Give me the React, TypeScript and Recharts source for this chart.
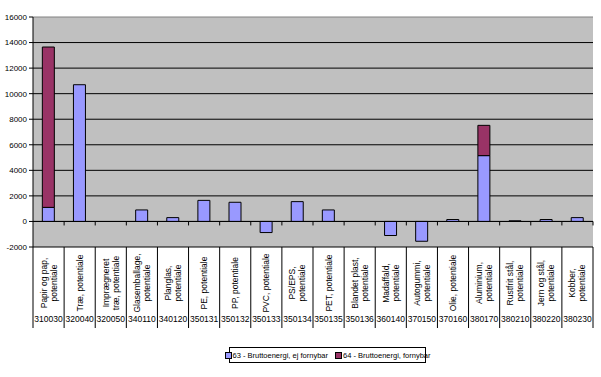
import React from "react";
import {
  Bar,
  BarChart,
  CartesianGrid,
  Legend,
  ReferenceLine,
  XAxis,
  YAxis,
} from "recharts";

const codes = [
  "310030", "320040", "320050", "340110", "340120", "350131", "350132", "350133", "350134",
  "350135", "350136", "360140", "370150", "370160", "380170", "380210", "380220", "380230",
];

const names = [
  "Papir og pap,\npotentiale",
  "Træ, potentiale",
  "Imprægneret\ntræ, potentiale",
  "Glasemballage,\npotentiale",
  "Planglas,\npotentiale",
  "PE, potentiale",
  "PP, potentiale",
  "PVC, potentiale",
  "PS/EPS,\npotentiale",
  "PET, potentiale",
  "Blandet plast,\npotentiale",
  "Madaffald,\npotentiale",
  "Autogummi,\npotentiale",
  "Olie, potentiale",
  "Aluminium,\npotentiale",
  "Rustfrit stål,\npotentiale",
  "Jern og stål,\npotentiale",
  "Kobber,\npotentiale",
];

// 63 - Bruttoenergi, ej fornybar
const nonRenewable = [1100, 10700, 0, 900, 300, 1650, 1500, -870, 1550, 900, 0, -1100, -1550, 150, 5150, 50, 150, 300];
// 64 - Bruttoenergi, fornybar
const renewable = [12550, 0, 0, 0, 0, 0, 0, 0, 0, 0, 0, 0, 0, 0, 2370, 0, 0, 0];

const yTicks = [-2000, 0, 2000, 4000, 6000, 8000, 10000, 12000, 14000, 16000];
const gridValues = [-2000, 0, 2000, 4000, 6000, 8000, 10000, 12000, 14000];

const seriesNames = ["63 - Bruttoenergi, ej fornybar", "64 - Bruttoenergi, fornybar"];

const BLUE = "#9999FF";
const RED = "#993366";
const FONT = "Arial, 'Liberation Sans', sans-serif";

const W = 601;
const H = 377;
const LEFT = 33;
const RIGHT = 8;
const HALF_BAND = (W - LEFT - RIGHT) / codes.length / 2;

const data = codes.map((code, i) => ({
  code,
  name: names[i],
  a: nonRenewable[i],
  b: renewable[i],
}));

function CategoryTick(props: any) {
  const { x, y, payload, index } = props;
  const half = payload?.offset || HALF_BAND;
  const i = index ?? payload.index;
  const lines = names[i].split("\n");
  const cy = y + 36;
  return (
    <g>
      <line x1={x - half} x2={x - half} y1={y} y2={y + 81} stroke="#000" />
      {i === codes.length - 1 && (
        <line x1={x + half} x2={x + half} y1={y} y2={y + 81} stroke="#000" />
      )}
      <text
        transform={`rotate(-90, ${x}, ${cy})`}
        x={x}
        y={cy}
        textAnchor="middle"
        fontSize={8.5}
        fontFamily={FONT}
        fill="#000"
      >
        {lines.map((l, k) => (
          <tspan key={k} x={x} y={cy + (k - (lines.length - 1) / 2) * 10 + 3}>
            {l}
          </tspan>
        ))}
      </text>
      <text x={x} y={y + 75} textAnchor="middle" fontSize={8.5} fontFamily={FONT} fill="#000">
        {payload.value}
      </text>
    </g>
  );
}

function ZeroAxis(props: any) {
  const { x1, y1, x2, y2 } = props;
  const n = codes.length;
  const step = (x2 - x1) / n;
  const ticks = [];
  for (let i = 1; i <= n; i++) {
    const tx = x1 + step * i;
    ticks.push(<line key={i} x1={tx} x2={tx} y1={y1} y2={y1 + 4} stroke="#000" />);
  }
  return (
    <g>
      <line x1={x1} x2={x2} y1={y1} y2={y2} stroke="#000" />
      {ticks}
    </g>
  );
}

function LegendBox() {
  const item = (color: string, label: string, key: number) => (
    <span key={key} style={{ display: "inline-flex", alignItems: "center", marginRight: key === 0 ? 7 : 0 }}>
      <span
        style={{
          display: "inline-block",
          width: 5,
          height: 5,
          background: color,
          border: "1px solid #000",
          marginRight: 1,
        }}
      />
      {label}
    </span>
  );
  return (
    <div style={{ height: 49, position: "relative" }}>
      <div
        style={{
          position: "absolute",
          left: 229,
          top: 19,
          height: 14,
          width: 195,
          border: "1px solid #000",
          background: "#fff",
          display: "flex",
          alignItems: "center",
          justifyContent: "center",
          fontSize: 7.5,
          fontFamily: FONT,
          color: "#000",
          whiteSpace: "nowrap",
        }}
      >
        {item(BLUE, seriesNames[0], 0)}
        {item(RED, seriesNames[1], 1)}
      </div>
    </div>
  );
}

export default function App() {
  return (
    <div style={{ width: W, height: H, background: "#fff" }}>
      <style>{`body{margin:0}`}</style>
      <BarChart
        width={W}
        height={H}
        data={data}
        stackOffset="sign"
        barCategoryGap="30%"
        margin={{ top: 17, right: RIGHT, left: 0, bottom: 0 }}
      >
        <CartesianGrid
          vertical={false}
          stroke="#000"
          fill="#C0C0C0"
          fillOpacity={1}
          horizontalValues={gridValues}
        />
        <XAxis
          dataKey="code"
          height={81}
          interval={0}
          tickLine={false}
          axisLine={false}
          tickSize={0}
          tickMargin={0}
          tick={<CategoryTick />}
        />
        <YAxis
          domain={[-2000, 16000]}
          ticks={yTicks}
          width={LEFT}
          tickSize={4}
          tickMargin={2}
          axisLine={{ stroke: "#000" }}
          tickLine={{ stroke: "#000" }}
          tick={{ fontSize: 8, fontFamily: FONT, fill: "#000" }}
          allowDataOverflow
        />
        <YAxis
          yAxisId="r"
          orientation="right"
          width={0}
          domain={[-2000, 16000]}
          tick={false}
          tickLine={false}
          axisLine={{ stroke: "#808080" }}
        />
        <ReferenceLine y={16000} stroke="#808080" />
        <Bar dataKey="a" name={seriesNames[0]} stackId="s" fill={BLUE} stroke="#000" strokeWidth={1} isAnimationActive={false} />
        <Bar dataKey="b" name={seriesNames[1]} stackId="s" fill={RED} stroke="#000" strokeWidth={1} isAnimationActive={false} />
        <ReferenceLine y={0} shape={<ZeroAxis />} />
        <Legend verticalAlign="bottom" height={49} wrapperStyle={{ left: 0, width: W, bottom: 0 }} content={<LegendBox />} />
      </BarChart>
    </div>
  );
}
